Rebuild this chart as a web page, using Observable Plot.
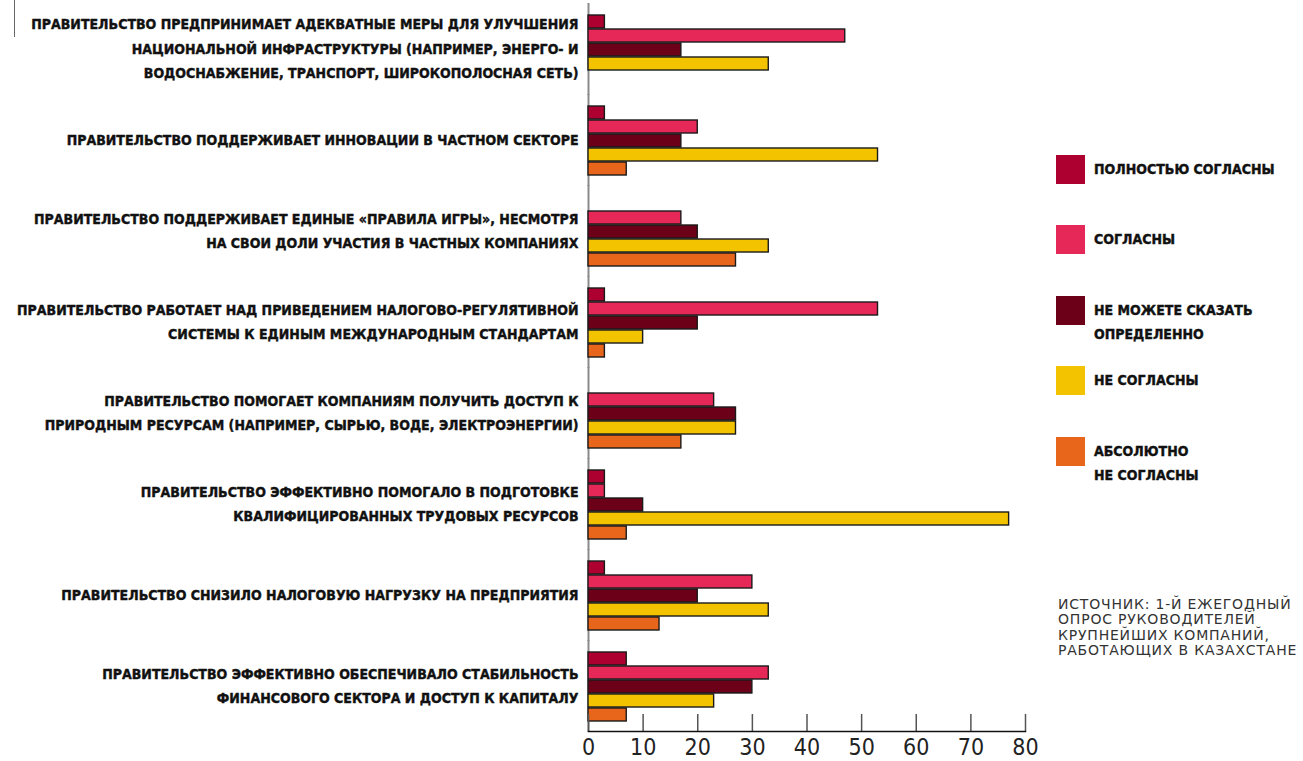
<!DOCTYPE html>
<html>
<head>
<meta charset="utf-8">
<script src="https://cdn.jsdelivr.net/npm/d3@7"></script>
<script src="https://cdn.jsdelivr.net/npm/@observablehq/plot@0.6"></script>
<style>
  body { margin: 0; background: #fff; }
  #wrap { position: relative; width: 1303px; height: 761px; overflow: hidden; background: #fff; }
  #wrap svg { position: absolute; left: 0; top: 0; overflow: visible; }
  #wrap svg text, .lab { font-family: "DejaVu Sans Condensed", "DejaVu Sans", sans-serif; font-stretch: condensed; }
  #legend { position: absolute; left: 1056px; top: 155px; }
  .item { position: absolute; left: 0; display: flex; align-items: flex-start; }
  .sw { width: 29px; height: 29px; flex: none; }
  .lab { margin-left: 9px; font-weight: bold; font-size: 14px; line-height: 24.5px; color: #111; margin-top: 2px;
         white-space: pre; -webkit-text-stroke: 0.4px #111; }
  #source { position: absolute; left: 1058px; top: 597px; font-family: "DejaVu Sans", sans-serif; font-size: 14px;
            line-height: 15.3px; letter-spacing: 0.8px; color: #333; white-space: pre; }
  #mark { position: absolute; left: 14px; top: 0; width: 0; height: 37px; border-left: 1.5px solid #666; }
</style>
</head>
<body>
<div id="wrap"><div id="mark"></div></div>
<script>
// Survey statements (one group of bars each)
const categories = ["infra", "innov", "rules", "tax-std", "resources", "labour", "tax-load", "finance"];
const categoryLabels = [
  "ПРАВИТЕЛЬСТВО ПРЕДПРИНИМАЕТ АДЕКВАТНЫЕ МЕРЫ ДЛЯ УЛУЧШЕНИЯ\nНАЦИОНАЛЬНОЙ ИНФРАСТРУКТУРЫ (НАПРИМЕР, ЭНЕРГО- И\nВОДОСНАБЖЕНИЕ, ТРАНСПОРТ, ШИРОКОПОЛОСНАЯ СЕТЬ)",
  "ПРАВИТЕЛЬСТВО ПОДДЕРЖИВАЕТ ИННОВАЦИИ В ЧАСТНОМ СЕКТОРЕ",
  "ПРАВИТЕЛЬСТВО ПОДДЕРЖИВАЕТ ЕДИНЫЕ «ПРАВИЛА ИГРЫ», НЕСМОТРЯ\nНА СВОИ ДОЛИ УЧАСТИЯ В ЧАСТНЫХ КОМПАНИЯХ",
  "ПРАВИТЕЛЬСТВО РАБОТАЕТ НАД ПРИВЕДЕНИЕМ НАЛОГОВО-РЕГУЛЯТИВНОЙ\nСИСТЕМЫ К ЕДИНЫМ МЕЖДУНАРОДНЫМ СТАНДАРТАМ",
  "ПРАВИТЕЛЬСТВО ПОМОГАЕТ КОМПАНИЯМ ПОЛУЧИТЬ ДОСТУП К\nПРИРОДНЫМ РЕСУРСАМ (НАПРИМЕР, СЫРЬЮ, ВОДЕ, ЭЛЕКТРОЭНЕРГИИ)",
  "ПРАВИТЕЛЬСТВО ЭФФЕКТИВНО ПОМОГАЛО В ПОДГОТОВКЕ\nКВАЛИФИЦИРОВАННЫХ ТРУДОВЫХ РЕСУРСОВ",
  "ПРАВИТЕЛЬСТВО СНИЗИЛО НАЛОГОВУЮ НАГРУЗКУ НА ПРЕДПРИЯТИЯ",
  "ПРАВИТЕЛЬСТВО ЭФФЕКТИВНО ОБЕСПЕЧИВАЛО СТАБИЛЬНОСТЬ\nФИНАНСОВОГО СЕКТОРА И ДОСТУП К КАПИТАЛУ"
];

// Answer options and their colours
const series = ["ПОЛНОСТЬЮ СОГЛАСНЫ", "СОГЛАСНЫ", "НЕ МОЖЕТЕ СКАЗАТЬ\nОПРЕДЕЛЕННО", "НЕ СОГЛАСНЫ", "АБСОЛЮТНО\nНЕ СОГЛАСНЫ"];
const seriesColors = ["#ad0030", "#e52858", "#6d0019", "#f4c300", "#e8661c"];

// Share of respondents, %, per statement
const fullyAgree       = [3, 3, 0, 3, 0, 3, 3, 7];
const agree            = [47, 20, 17, 53, 23, 3, 30, 33];
const cannotSay        = [17, 17, 20, 20, 27, 10, 20, 30];
const disagree         = [33, 53, 33, 10, 27, 77, 33, 23];
const stronglyDisagree = [0, 7, 27, 3, 17, 7, 13, 7];

const xTicks = [0, 10, 20, 30, 40, 50, 60, 70, 80];
const sourceText = "ИСТОЧНИК: 1-Й ЕЖЕГОДНЫЙ\nОПРОС РУКОВОДИТЕЛЕЙ\nКРУПНЕЙШИХ КОМПАНИЙ,\nРАБОТАЮЩИХ В КАЗАХСТАНЕ";

const valueSeries = [fullyAgree, agree, cannotSay, disagree, stronglyDisagree];
const rows = categories.flatMap((c, i) =>
  series.map((s, j) => ({category: c, series: s, value: valueSeries[j][i]}))
);
const labelRows = categories.map((c, i) => ({category: c, label: categoryLabels[i]}));

const condensed = '"DejaVu Sans Condensed", "DejaVu Sans", sans-serif';

const chart = Plot.plot({
  width: 1303,
  height: 761,
  marginLeft: 588,
  marginRight: 278,
  marginTop: 13,
  marginBottom: 37,
  style: {fontFamily: condensed, background: "transparent", color: "#111"},
  x: {domain: [0, 80], label: null},
  y: {domain: series, paddingInner: 0.07, paddingOuter: 0, axis: null},
  fy: {domain: categories, paddingInner: 0.217, paddingOuter: 0, axis: null},
  color: {domain: series, range: seriesColors},
  marks: [
    // zero baseline running through all groups
    Plot.ruleX([0], {stroke: "#8a8a8a", strokeWidth: 2, insetTop: -11, insetBottom: -10}),
    Plot.barX(rows, {
      fy: "category", y: "series", x: "value",
      fill: "series", stroke: "#1a1a1a", strokeWidth: 1.4
    }),
    Plot.text(labelRows, {
      fy: "category", text: "label", frameAnchor: "left", textAnchor: "end",
      dx: -10, dy: -4, lineHeight: 1.75, fontSize: 14, fontWeight: "bold",
      fill: "#111", stroke: "#111", strokeWidth: 0.4
    }),
    Plot.axisX(xTicks, {
      anchor: "bottom", tickSize: -17, tickPadding: 24, dy: 9, label: null,
      fontSize: 23, stroke: "#555", strokeWidth: 1.5, fill: "#222",
      tickFormat: d => String(d)
    }),
    Plot.frame({anchor: "bottom", facetAnchor: "bottom", dy: 9, stroke: "#111", strokeWidth: 1.5})
  ]
});

const wrap = document.getElementById("wrap");
wrap.appendChild(chart);

// Legend for the answer options
const legend = document.createElement("div");
legend.id = "legend";
series.forEach((s, i) => {
  const item = document.createElement("div");
  item.className = "item";
  item.style.top = (i * 70.4) + "px";
  const sw = document.createElement("div");
  sw.className = "sw";
  sw.style.background = seriesColors[i];
  const lab = document.createElement("div");
  lab.className = "lab";
  lab.textContent = s;
  item.appendChild(sw);
  item.appendChild(lab);
  legend.appendChild(item);
});
wrap.appendChild(legend);

const src = document.createElement("div");
src.id = "source";
src.textContent = sourceText;
wrap.appendChild(src);
</script>
</body>
</html>
